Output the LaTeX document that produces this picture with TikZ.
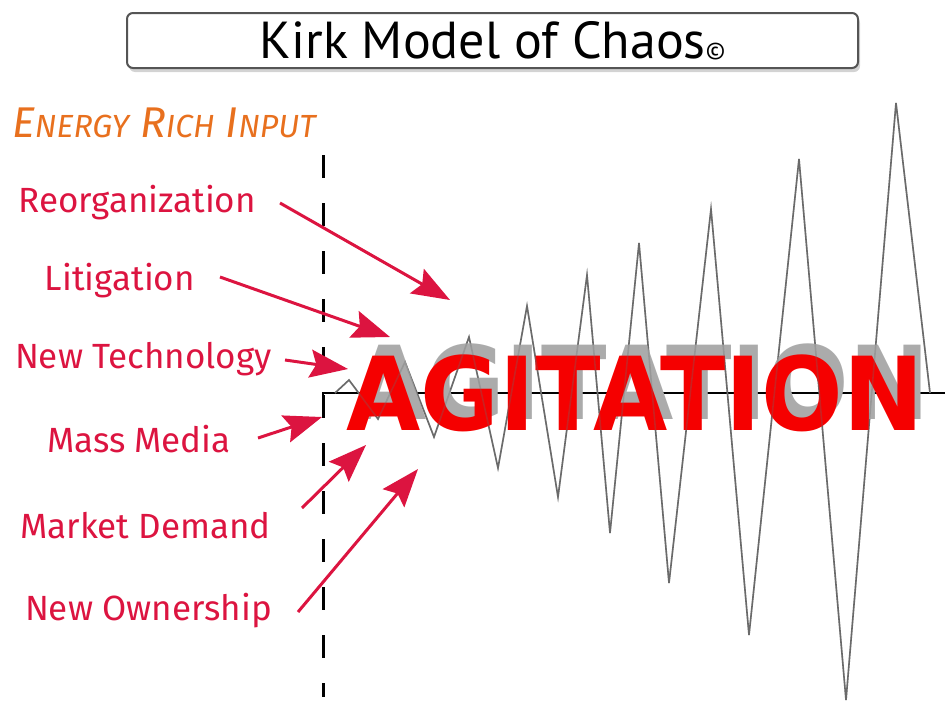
\documentclass[tikz,border=0pt]{standalone}
\usepackage{fontspec}
\usepackage{graphicx}
\setmainfont{Fira Sans}
\newfontfamily\titlefont{PT Sans}
\newfontfamily\bannerfont{DejaVu Sans}
\usetikzlibrary{arrows.meta, shadows}
\definecolor{labelred}{HTML}{DC1440}
\definecolor{bannerred}{HTML}{F50000}
\definecolor{bannershade}{HTML}{ABABAB}
\definecolor{energyorange}{HTML}{E8701E}
\definecolor{wavegray}{HTML}{6A6A6A}
\definecolor{boxgray}{HTML}{555555}

\newcommand{\agiword}{\scalebox{0.96}[1.02]{AGITATION}}

\tikzset{
  titlebox/.style={draw=boxgray, line width=2pt, fill=white, rounded corners=6pt,
    minimum width=731pt, minimum height=55pt, inner sep=0pt,
    font=\titlefont\fontsize{52}{54}\selectfont,
    drop shadow={shadow xshift=2pt, shadow yshift=-4pt, opacity=.35}},
  causelabel/.style={text=labelred, font=\fontsize{35}{38}\selectfont, inner sep=0pt, anchor=base east},
  causearrow/.style={draw=labelred, line width=3pt,
    -{Stealth[length=38pt, width=28pt, inset=6pt]}},
  threshold/.style={draw=black, line width=3pt, dash pattern=on 23pt off 25pt},
  axisline/.style={draw=black, line width=2.5pt},
  waveline/.style={draw=wavegray, line width=1.6pt, line join=miter},
  bannertext/.style={inner sep=0pt, font=\bannerfont\bfseries\fontsize{100}{100}\selectfont}
}

\begin{document}
\begin{tikzpicture}[x=1pt, y=-1pt]
\useasboundingbox (0,0) rectangle (945,704);

% Title
\node[titlebox] (title) at (492.5,40.5) {Kirk Model of Chaos{\fontsize{24}{24}\selectfont ©}};

% Input heading
\node[text=energyorange, inner sep=0pt, anchor=base west, font=\itshape\fontsize{43}{45}\selectfont]
  (energy) at (12,137) {E{\fontsize{32}{33}\selectfont NERGY} R{\fontsize{32}{33}\selectfont ICH} I{\fontsize{32}{33}\selectfont NPUT}};

% Threshold and baseline
\draw[threshold] (323,155) -- (323,697);
\draw[axisline] (323,417) -- (323,393) -- (945,393);

% Chaos wave
\path[save path=\wavepath] (335,393) -- (349,380) -- (378,419) -- (405,362) -- (434,437)
  -- (469,337) -- (498,468) -- (527,306) -- (558,497) -- (587,275) -- (610,533)
  -- (639,243) -- (669,583) -- (711,209) -- (749,635) -- (799,159) -- (846,700)
  -- (896,103) -- (930,393);
\draw[waveline, use path=\wavepath];

% Agitation banner
\node[bannertext, text=bannershade] (agishade) at (641,382) {\agiword};
\node[bannertext, text=bannerred] (agitation) at (635,393) {\agiword};
\draw[waveline, draw opacity=0.3, use path=\wavepath];

% Causes
\node[causelabel] (reorg) at (256,212) {Reorganization};
\node[causelabel] (litig) at (195,290) {Litigation};
\node[causelabel] (newtech) at (272,368) {New Technology};
\node[causelabel] (media) at (231,452) {Mass Media};
\node[causelabel] (market) at (271,538) {Market Demand};
\node[causelabel] (owner) at (272,620) {New Ownership};

\coordinate (reorgtip) at (450,300);
\coordinate (litigtip) at (390,337);
\coordinate (newtechtip) at (348,369);
\coordinate (mediatip) at (322,417);
\coordinate (markettip) at (366,445);
\coordinate (ownertip) at (418,469);

\draw[causearrow] ([xshift=24pt, yshift=9pt]reorg.base east) -- (reorgtip);
\draw[causearrow] ([xshift=25pt, yshift=13pt]litig.base east) -- (litigtip);
\draw[causearrow] ([xshift=13pt, yshift=8pt]newtech.base east) -- (newtechtip);
\draw[causearrow] ([xshift=27pt, yshift=14pt]media.base east) -- (mediatip);
\draw[causearrow] ([xshift=31pt, yshift=30pt]market.base east) -- (markettip);
\draw[causearrow] ([xshift=26pt, yshift=8pt]owner.base east) -- (ownertip);

\end{tikzpicture}
\end{document}
